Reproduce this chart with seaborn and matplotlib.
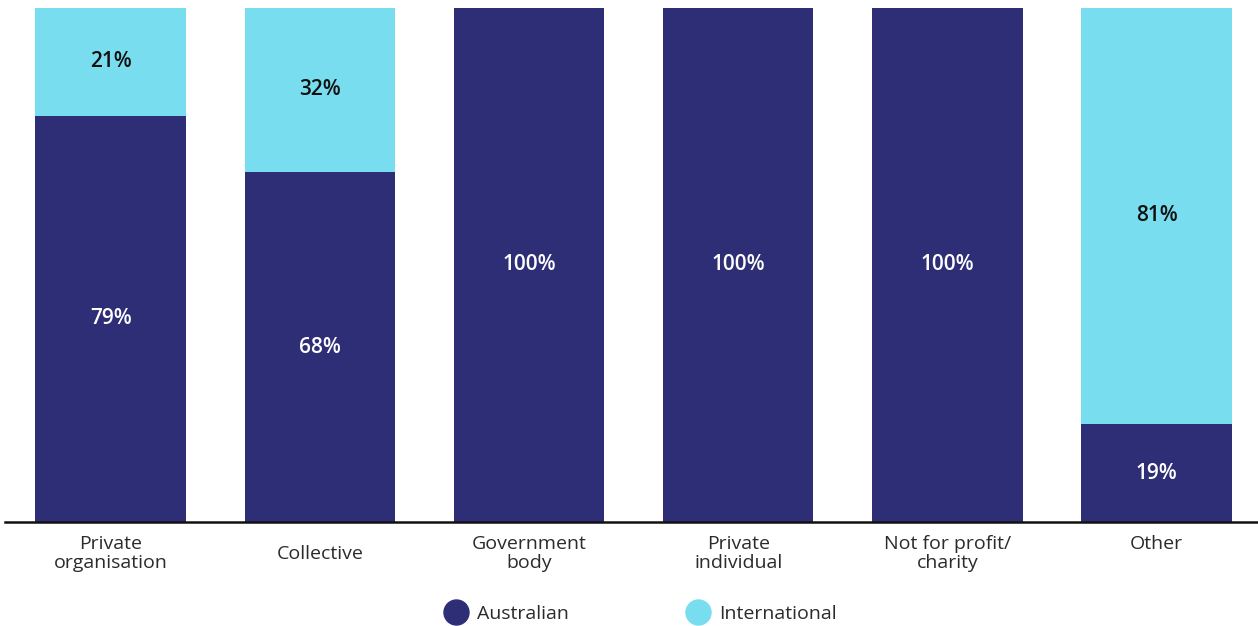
import matplotlib
matplotlib.use("Agg")
import matplotlib.pyplot as plt
from matplotlib.lines import Line2D
import matplotlib.transforms as mtransforms
import seaborn as sns
import pandas as pd

categories = ["Private\norganisation", "Collective", "Government\nbody",
              "Private\nindividual", "Not for profit/\ncharity", "Other"]
australian = [79, 68, 100, 100, 100, 19]
international = [21, 32, 0, 0, 0, 81]

NAVY = "#2E2E77"
CYAN = "#77DDEF"

sns.set_theme(style="white")
plt.rcParams["font.family"] = ["Open Sans", "DejaVu Sans"]

df = pd.DataFrame({
    "category": categories,
    "Australian": australian,
    "International": international,
})
df["total"] = df["Australian"] + df["International"]

fig = plt.figure(figsize=(12.58, 6.26), dpi=100)
ax = fig.add_axes([0.004, 0.166, 0.996, 0.822])

# stacked bars: full height in cyan, Australian share in navy over it
sns.barplot(data=df, x="category", y="total", color=CYAN, width=0.72,
            saturation=1, ax=ax, linewidth=0)
sns.barplot(data=df, x="category", y="Australian", color=NAVY, width=0.72,
            saturation=1, ax=ax, linewidth=0)

for i, (a, it) in enumerate(zip(australian, international)):
    if a > 0:
        ax.text(i, a / 2, f"{a}%", ha="center", va="center", color="white",
                fontsize=15, fontweight="semibold")
    if it > 0:
        ax.text(i, a + it / 2, f"{it}%", ha="center", va="center",
                color="#111111", fontsize=15, fontweight="semibold")

ax.set_ylim(0, 100)
ax.set_xlim(-0.505, 5.485)
ax.set_xlabel("")
ax.set_ylabel("")
ax.set_yticks([])
ax.tick_params(axis="x", length=0, pad=9, labelsize=14, labelcolor="#2b2b2b")
for s in ["top", "left", "right"]:
    ax.spines[s].set_visible(False)
ax.spines["bottom"].set_color("#111111")
ax.spines["bottom"].set_linewidth(1.8)
for lbl in ax.get_xticklabels():
    lbl.set_linespacing(1.12)
    # single-line label sits in the middle of the two-line band
    if lbl.get_text() == "Collective":
        lbl.set_transform(lbl.get_transform() +
                          mtransforms.ScaledTranslation(0, -7.5 / 72, fig.dpi_scale_trans))

handles = [
    Line2D([0], [0], marker="o", linestyle="", markersize=18,
           markerfacecolor=NAVY, markeredgecolor=NAVY, label="Australian"),
    Line2D([0], [0], marker="o", linestyle="", markersize=18,
           markerfacecolor=CYAN, markeredgecolor=CYAN, label="International"),
]
fig.legend(handles=handles, loc="center", bbox_to_anchor=(0.506, 0.019),
           ncol=2, frameon=False, fontsize=14, handletextpad=0.1,
           columnspacing=5.6, labelcolor="#2b2b2b")

fig.savefig("out.png", dpi=100)
